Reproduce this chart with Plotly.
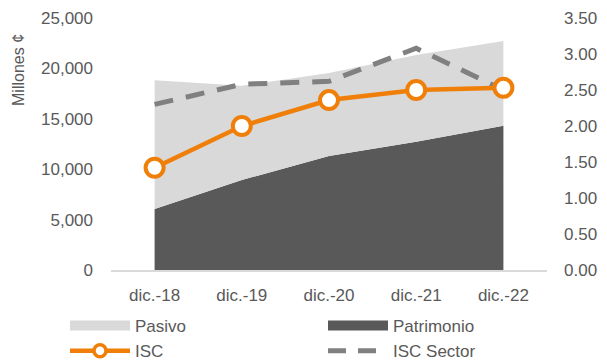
import plotly.graph_objects as go

categories = ["dic.-18", "dic.-19", "dic.-20", "dic.-21", "dic.-22"]
patrimonio = [6050, 8930, 11310, 12730, 14320]
pasivo = [12770, 9360, 8230, 8600, 8400]
isc = [1.42, 2.00, 2.36, 2.50, 2.53]
isc_sector = [2.30, 2.58, 2.62, 3.08, 2.50]

FONT = "Liberation Sans, Arial, sans-serif"
TXT = "#595959"
ORANGE = "#f07f09"
LIGHT = "#d9d9d9"
DARK = "#595959"
DASHC = "#808080"
FS = 17

fig = go.Figure()
fig.add_trace(go.Scatter(x=categories, y=patrimonio, name="Patrimonio", stackgroup="a",
                         mode="none", fillcolor=DARK, showlegend=False))
fig.add_trace(go.Scatter(x=categories, y=pasivo, name="Pasivo", stackgroup="a",
                         mode="none", fillcolor=LIGHT, showlegend=False))
fig.add_trace(go.Scatter(x=categories, y=isc_sector, name="ISC Sector", yaxis="y2", mode="lines",
                         line=dict(color=DASHC, width=5, dash="19px,13px"), showlegend=False))
fig.add_trace(go.Scatter(x=categories, y=isc, name="ISC", yaxis="y2", mode="lines+markers",
                         line=dict(color=ORANGE, width=4.5),
                         marker=dict(size=18, color="white", line=dict(color=ORANGE, width=4)),
                         showlegend=False))

# legend entries: left column Pasivo / ISC, right column Patrimonio / ISC Sector
fig.add_trace(go.Scatter(x=[None], y=[None], name="Pasivo", mode="lines",
                         line=dict(color=LIGHT, width=10), legend="legend"))
fig.add_trace(go.Scatter(x=[None], y=[None], name="ISC", mode="lines+markers",
                         line=dict(color=ORANGE, width=4.5),
                         marker=dict(size=12, color="white", line=dict(color=ORANGE, width=3.5)),
                         legend="legend"))
fig.add_trace(go.Scatter(x=[None], y=[None], name="Patrimonio", mode="lines",
                         line=dict(color=DARK, width=10), legend="legend2"))
fig.add_trace(go.Scatter(x=[None], y=[None], name="ISC Sector", mode="lines",
                         line=dict(color=DASHC, width=5, dash="18px,12px"), legend="legend2"))

W, H = 607, 364
L, R, T, B = 111, 60, 18, 94

leg = dict(orientation="h", xanchor="left", yanchor="top", xref="container", yref="container",
           y=1 - 308 / H, entrywidth=258, entrywidthmode="pixels",
           font=dict(family=FONT, size=FS, color=TXT), itemwidth=60, traceorder="normal",
           bgcolor="rgba(0,0,0,0)", itemclick=False, itemdoubleclick=False)

fig.update_layout(
    width=W, height=H,
    margin=dict(l=L, r=R, t=T, b=B, pad=0),
    paper_bgcolor="white", plot_bgcolor="white",
    font=dict(family=FONT, size=FS, color=TXT),
    xaxis=dict(type="category", range=[-0.5, 4.5], showgrid=False, showline=True, automargin=False,
               linecolor=LIGHT, linewidth=2, ticks="", ticklabelstandoff=9,
               tickfont=dict(family=FONT, size=FS, color=TXT)),
    yaxis=dict(range=[0, 25000], dtick=5000, tickformat=",", showgrid=False, automargin=False,
               zeroline=False, ticks="", ticklabelstandoff=17,
               tickfont=dict(family=FONT, size=FS, color=TXT)),
    yaxis2=dict(range=[0, 3.5], dtick=0.5, tickformat=".2f", overlaying="y", side="right",
                showgrid=False, zeroline=False, ticks="", ticklabelstandoff=16, automargin=False,
                tickfont=dict(family=FONT, size=FS, color=TXT)),
    legend=dict(x=65 / W, **leg),
    legend2=dict(x=323 / W, **leg),
    annotations=[dict(text="Millones ¢", xref="paper", yref="paper",
                      x=-93 / (W - L - R), y=(H - B - 70) / (H - T - B),
                      xanchor="center", yanchor="middle", textangle=-90, showarrow=False,
                      font=dict(family=FONT, size=16, color=TXT))],
)

fig.write_html("out.html")
